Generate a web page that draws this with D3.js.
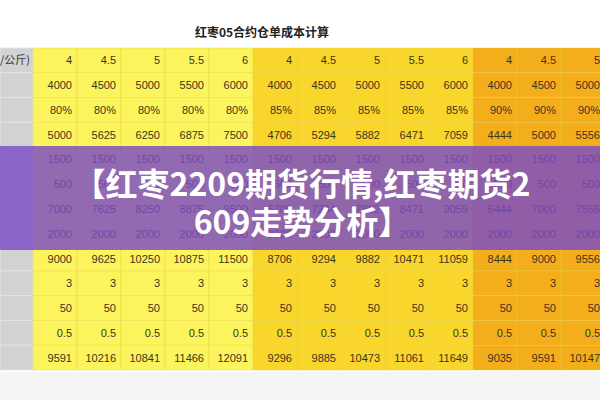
<!DOCTYPE html>
<html><head><meta charset="utf-8">
<script src="https://cdn.jsdelivr.net/npm/d3@7"></script>
<style>body{margin:0;background:#fff}</style>
</head><body><svg id="c" width="600" height="400"></svg>
<script>
var tableTitle = "红枣05合约仓单成本计算";
var overlayLines = ["【红枣2209期货行情,红枣期货2", "609走势分析】"];
var rowLabels = ["(元/公斤)", "", "", "", "", "", "", "", "", "", "", "", ""];
var groupOf = [0,0,0,0,0,1,1,1,1,1,2,2,2];
var groupColors = ["#fbf45c", "#f8d62c", "#f4ae1c"];

var r1 = ["4","4.5","5","5.5","6","4","4.5","5","5.5","6","4","4.5","5"];
var r2 = ["4000","4500","5000","5500","6000","4000","4500","5000","5500","6000","4000","4500","5000"];
var r3 = ["80%","80%","80%","80%","80%","85%","85%","85%","85%","85%","90%","90%","90%"];
var r4 = ["5000","5625","6250","6875","7500","4706","5294","5882","6471","7059","4444","5000","5556"];
var r5 = ["1500","1500","1500","1500","1500","1500","1500","1500","1500","1500","1500","1500","1500"];
var r6 = ["500","500","500","500","500","500","500","500","500","500","500","500","500"];
var r7 = ["7000","7625","8250","8875","9500","6706","7294","7882","8471","9059","6444","7000","7556"];
var r8 = ["2000","2000","2000","2000","2000","2000","2000","2000","2000","2000","2000","2000","2000"];
var r9 = ["9000","9625","10250","10875","11500","8706","9294","9882","10471","11059","8444","9000","9556"];
var r10 = ["3","3","3","3","3","3","3","3","3","3","3","3","3"];
var r11 = ["50","50","50","50","50","50","50","50","50","50","50","50","50"];
var r12 = ["0.5","0.5","0.5","0.5","0.5","0.5","0.5","0.5","0.5","0.5","0.5","0.5","0.5"];
var r13 = ["9591","10216","10841","11466","12091","9296","9885","10473","11061","11649","9035","9591","10147"];
var rows = [r1,r2,r3,r4,r5,r6,r7,r8,r9,r10,r11,r12,r13];

var svg = d3.select("#c");
var x = d3.scaleBand().domain(d3.range(r1.length)).range([33, 605]);
var y = d3.scaleBand().domain(d3.range(rows.length)).range([48, 370]);

svg.append("rect").attr("x",0).attr("y",0).attr("width",600).attr("height",400).attr("fill","#fff");
svg.append("rect").attr("x",0).attr("y",372).attr("width",600).attr("height",28).attr("fill","#f4f4f4");

svg.append("text").attr("x",262).attr("y",37).attr("text-anchor","middle")
    .attr("font-family","Noto Sans CJK SC").attr("font-weight","bold").attr("font-size",12)
    .attr("fill","#222").text(tableTitle);

// grey label column
svg.selectAll("rect.lab").data(rowLabels).enter().append("rect")
    .attr("x",0).attr("y",function(d,i){return y(i);})
    .attr("width",33).attr("height",y.bandwidth())
    .attr("fill","#d2d2d2").attr("stroke","#e4e4e4");
svg.append("clipPath").attr("id","labclip").append("rect").attr("x",0).attr("y",0).attr("width",33).attr("height",400);
svg.append("g").attr("clip-path","url(#labclip)")
  .selectAll("text").data(rowLabels).enter().append("text")
    .attr("x",30).attr("y",function(d,i){return y(i)+y.bandwidth()/2+4;})
    .attr("text-anchor","end").attr("font-family","Noto Sans CJK SC").attr("font-size",11)
    .attr("fill","#333").text(function(d){return d;});

var row = svg.selectAll("g.row").data(rows).enter().append("g")
    .attr("transform",function(d,i){return "translate(0,"+y(i)+")";});

row.selectAll("rect").data(function(d){return d;}).enter().append("rect")
    .attr("x",function(d,j){return x(j);})
    .attr("width",x.bandwidth()).attr("height",y.bandwidth())
    .attr("fill",function(d,j){return groupColors[groupOf[j]];})
    .attr("stroke","#e8d040").attr("stroke-width",0.6).attr("stroke-opacity",0.6);

row.selectAll("text").data(function(d){return d;}).enter().append("text")
    .attr("x",function(d,j){return x(j)+x.bandwidth()-5;})
    .attr("y",y.bandwidth()/2+4)
    .attr("text-anchor","end").attr("font-family","Liberation Sans").attr("font-size",11)
    .attr("fill","#3a3520").text(function(d){return d;});

// overlay band
svg.append("rect").attr("x",0).attr("y",146).attr("width",600).attr("height",104)
    .attr("fill","#7a4cc4").attr("fill-opacity",0.82);
svg.selectAll("text.ov").data(overlayLines).enter().append("text")
    .attr("x",302).attr("y",function(d,i){return 196+i*38;})
    .attr("text-anchor","middle").attr("font-family","Noto Sans CJK SC").attr("font-weight","bold")
    .attr("font-size",32).attr("fill","#fff").text(function(d){return d;});
</script></body></html>
